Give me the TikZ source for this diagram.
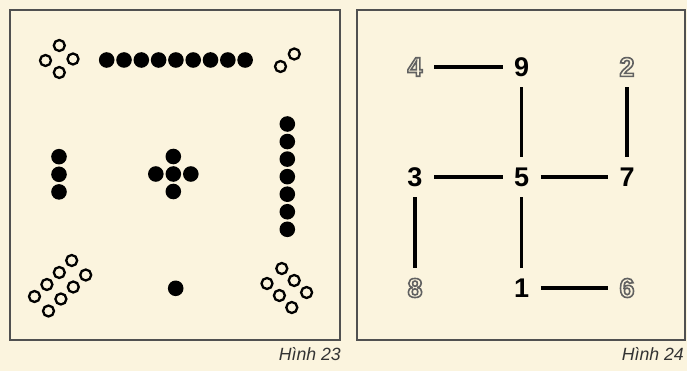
\documentclass[tikz,border=0pt]{standalone}
\usepackage{fontspec}
\setmainfont{Liberation Sans}

\definecolor{papir}{RGB}{251,244,222}
\definecolor{ramecek}{RGB}{80,80,80}
% obrysové písmo (jen tah, bez výplně)
\newcommand{\dutaCislice}[1]{\special{pdf:literal q 1 Tr 1.6 w 0.38 0.38 0.38 RG}#1\special{pdf:literal Q}}

\begin{document}
\begin{tikzpicture}[x=1pt,y=-1pt,
        cislo/.style={font=\bfseries\fontsize{27}{27}\selectfont, minimum width=38pt, minimum height=40pt, inner sep=0pt},
        hrana/.style={line width=3.2pt},
        popisek/.style={anchor=east, inner sep=0pt, text=black!80, font=\itshape\fontsize{17.7}{18}\selectfont},
        prazdna/.style={draw=black, line width=2.3pt}]
        \fill[papir] (0,0) rectangle (687,371);
        \useasboundingbox (0,0) rectangle (687,371);

        % rámečky
        \draw[ramecek, line width=1.3pt] (10,10) rectangle (340,340);
        \draw[ramecek, line width=1.3pt] (357,10) rectangle (685,340);
        \node[popisek] (h23) at (341,354) {Hình 23};
        \node[popisek] (h24) at (684,354) {Hình 24};

        % plné tečky
        \foreach \i in {0,...,8} \fill (106.7+17.3*\i,60) circle (7.8pt);
        \foreach \j in {0,1,2} \fill (59,156.7+17.6*\j) circle (7.8pt);
        \foreach \p in {(173.3,174),(173.3,156.5),(173.3,191.5),(155.8,174),(190.8,174)}
            \fill \p circle (7.8pt);
        \foreach \j in {0,...,6} \fill (287.3,124+17.55*\j) circle (7.8pt);
        \fill (175.7,288.3) circle (7.8pt);

        % prázdné kroužky
        \foreach \p in {(59.3,45.5),(45.5,60.5),(73,59),(59.3,72.5)}
            \draw[prazdna] \p circle (5.5pt);
        \foreach \p in {(280.5,66.5),(294.3,54)}
            \draw[prazdna] \p circle (5.5pt);
        \foreach \r in {0,1} \foreach \i in {0,...,3}
            \draw[prazdna] (71.7-12.4*\i+14*\r,260.5+12*\i+14.5*\r) circle (5.5pt);
        \foreach \r in {0,1} \foreach \i in {0,1,2}
            \draw[prazdna] (267+12.4*\i+14.8*\r,283.5+12*\i-15*\r) circle (5.5pt);

        % čísla
        \node[cislo] (n4) at (415,67) {\dutaCislice{4}};
        \node[cislo] (n9) at (521.7,67) {9};
        \node[cislo] (n2) at (627,67) {\dutaCislice{2}};
        \node[cislo] (n3) at (415,177) {3};
        \node[cislo] (n5) at (521.7,177) {5};
        \node[cislo] (n7) at (627,177) {7};
        \node[cislo] (n8) at (415,288) {\dutaCislice{8}};
        \node[cislo] (n1) at (521.7,288) {1};
        \node[cislo] (n6) at (627,288) {\dutaCislice{6}};

        \draw[hrana] (n4) -- (n9) (n9) -- (n5) (n2) -- (n7)
            (n3) -- (n5) (n5) -- (n7) (n3) -- (n8) (n5) -- (n1) (n1) -- (n6);
\end{tikzpicture}
\end{document}
